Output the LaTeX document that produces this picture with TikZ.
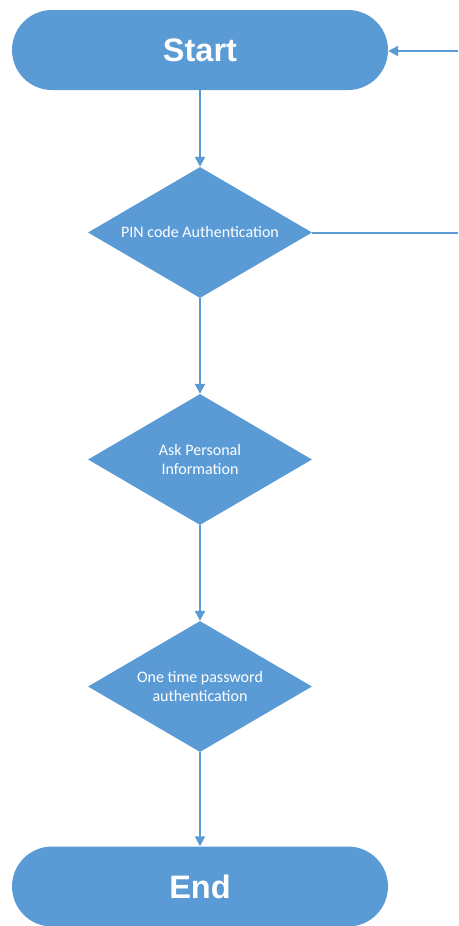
\documentclass[tikz,border=0pt]{standalone}
\usepackage{fontspec}
\setmainfont{Liberation Sans}
\newfontfamily\bodyfont{Carlito}
\usetikzlibrary{shapes.geometric,arrows.meta}
\definecolor{flowblue}{RGB}{91,155,213}
\tikzset{
  terminal/.style={draw=none, fill=flowblue, rectangle, rounded corners=40pt,
    minimum width=376pt, minimum height=80pt, inner sep=0pt,
    text=white, font=\fontsize{32.5}{38}\selectfont\bfseries},
  decision/.style={draw=none, fill=flowblue, diamond, aspect=1.71,
    minimum width=224pt, minimum height=131pt, inner sep=0pt,
    text=white, align=center, font=\bodyfont\fontsize{16}{19.5}\selectfont},
  flow/.style={draw=flowblue, line width=2pt},
  flowarrow/.style={flow, -{Triangle[length=10pt,width=10pt]}}
}
\begin{document}
\begin{tikzpicture}[x=1pt,y=-1pt]
  \useasboundingbox (0,0) rectangle (458,926);
  % main column of steps
  \node[terminal] (start) at (200,50) {Start};
  \node[decision] (pin) at (200,232.5) {PIN code Authentication};
  \node[decision] (info) at (200,459.5) {Ask Personal\\Information};
  \node[decision] (otp) at (200,686.5) {One time password\\authentication};
  \node[terminal] (end) at (200,886.5) {End};
  % loose ends of the loop back to Start, at the right edge
  \coordinate (loopout) at (458,232.5);
  \coordinate (loopin) at (458,51);
  % connectors
  \draw[flowarrow] (start.south) -- (pin.north);
  \draw[flowarrow] (pin.south) -- (info.north);
  \draw[flowarrow] (info.south) -- (otp.north);
  \draw[flowarrow] (otp.south) -- (end.north);
  \draw[flow] (pin.east) -- (loopout);
  \draw[flowarrow] (loopin) -- (start.east |- loopin);
\end{tikzpicture}
\end{document}
